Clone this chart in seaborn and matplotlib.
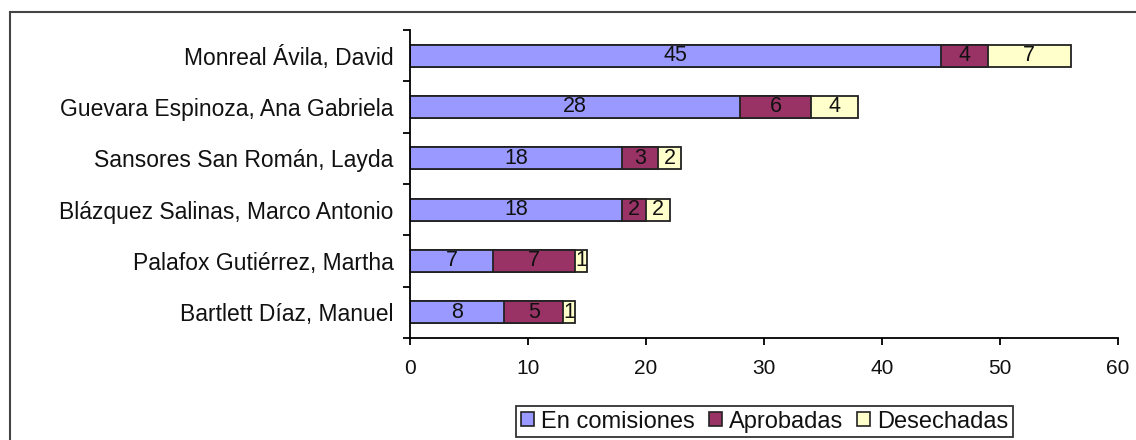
import numpy as np
import pandas as pd
import seaborn as sns
import matplotlib.pyplot as plt
from matplotlib.patches import Rectangle, Patch
from matplotlib.ticker import FixedLocator

# data
senadores = ["Monreal Ávila, David",
             "Guevara Espinoza, Ana Gabriela",
             "Sansores San Román, Layda",
             "Blázquez Salinas, Marco Antonio",
             "Palafox Gutiérrez, Martha",
             "Bartlett Díaz, Manuel"]
en_comisiones = [45, 28, 18, 18, 7, 8]
aprobadas = [4, 6, 3, 2, 7, 5]
desechadas = [7, 4, 2, 2, 1, 1]

series = ["En comisiones", "Aprobadas", "Desechadas"]
colores = ["#9999FF", "#993366", "#FFFFCC"]

df = pd.DataFrame({"Senador": senadores,
                   "En comisiones": en_comisiones,
                   "Aprobadas": aprobadas,
                   "Desechadas": desechadas})
df["c1"] = df["En comisiones"]
df["c2"] = df["c1"] + df["Aprobadas"]
df["c3"] = df["c2"] + df["Desechadas"]

sns.set_style("white")
plt.rcParams["font.family"] = ["Liberation Sans", "DejaVu Sans"]

fig = plt.figure(figsize=(11.36, 4.4), dpi=100)
ax = fig.add_axes([0.361, 0.232, 0.623, 0.700])

# stacked bars: draw the totals first, partial sums on top
for col, color in zip(["c3", "c2", "c1"], colores[::-1]):
    sns.barplot(data=df, y="Senador", x=col, orient="h", color=color,
                width=0.43, edgecolor="#222222", linewidth=1.3, ax=ax,
                saturation=1)

# segment labels
for i, row in df.iterrows():
    start = 0
    for s in series:
        v = row[s]
        ax.text(start + v / 2, i, str(v), ha="center", va="center",
                fontsize=15.5, color="#111111")
        start += v

ax.set_xlim(0, 60)
ax.set_ylim(5.5, -0.5)
ax.set_xticks(np.arange(0, 61, 10))
ax.set_xlabel("")
ax.set_ylabel("")
for side in ["top", "right"]:
    ax.spines[side].set_visible(False)
for side in ["left", "bottom"]:
    ax.spines[side].set_color("black")
    ax.spines[side].set_linewidth(1.3)

ax.tick_params(axis="y", which="major", length=0, pad=12, labelsize=16.5,
               labelcolor="#111111")
ax.yaxis.set_minor_locator(FixedLocator(np.arange(-0.5, 6, 1)))
ax.tick_params(axis="y", which="minor", left=True, length=5, width=1.3, color="black")
ax.tick_params(axis="x", which="major", bottom=True, length=5, width=1.3,
               color="black", pad=10, labelsize=15, labelcolor="#111111")

handles = [Patch(facecolor=c, edgecolor="#222222", linewidth=1.2, label=s)
           for s, c in zip(series, colores)]
leg = fig.legend(handles=handles, loc="center", bbox_to_anchor=(0.673, 0.042),
                 ncol=3, frameon=True, fancybox=False, fontsize=17,
                 handlelength=0.55, handleheight=0.55, handletextpad=0.3,
                 columnspacing=0.6, borderpad=0.2, borderaxespad=0)
leg.get_frame().set_edgecolor("black")
leg.get_frame().set_linewidth(1.3)
for t in leg.get_texts():
    t.set_color("#111111")

# outer chart-area frame
fig.patches.append(Rectangle((10 / 1136, -0.1), 1.2, 1 - 12 / 440 + 0.1,
                             transform=fig.transFigure, fill=False,
                             edgecolor="#444444", linewidth=1.5))

fig.savefig("out.png", dpi=100)
